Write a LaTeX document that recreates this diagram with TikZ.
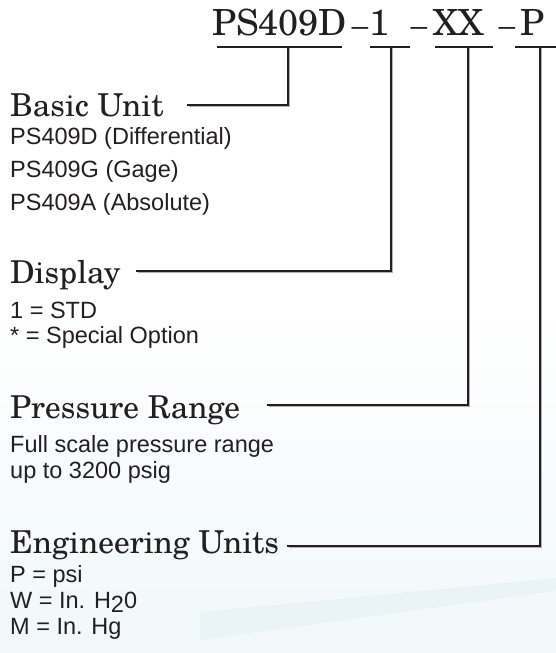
\documentclass[tikz,border=0pt]{standalone}
\usepackage{fontspec}
\setmainfont{TeX Gyre Schola}
\newfontfamily\bodyfont{Liberation Sans}
\definecolor{ink}{HTML}{231F20}
\definecolor{bgbot}{HTML}{F1F8FA}
\definecolor{bandc}{HTML}{EAF4F7}
\begin{document}
\begin{tikzpicture}[x=1pt,y=-1pt,
  titletxt/.style={anchor=base west, inner sep=0pt, font=\fontsize{36}{36}\selectfont, text=ink},
  titledash/.style={anchor=base, inner sep=0pt, font=\fontsize{30}{30}\selectfont, text=ink},
  head/.style={anchor=base west, inner sep=0pt, font=\fontsize{31.5}{31.5}\selectfont, text=ink},
  body/.style={anchor=base west, inner sep=0pt, font=\bodyfont\fontsize{23.5}{23.5}\selectfont, text=ink},
  uline/.style={draw=ink, line width=2.6pt},
  conn/.style={draw=ink, line width=2pt, line cap=rect, line join=miter,
    preaction={draw=black!30, line width=2pt, transform canvas={shift={(0.9pt,-0.9pt)}}}}]
\useasboundingbox (0,0) rectangle (556,653);
% background
\shade[top color=white, bottom color=bgbot] (0,300) rectangle (556,653);
\fill[bandc] (200,612) -- (556,578) -- (556,591) -- (200,640) -- cycle;
% title
\node[titletxt] (t1) at (212,35) {PS409D};
\node[titledash] (d1) at (360,35) {–};
\node[titletxt] (t2) at (369,35) {1};
\node[titledash] (d2) at (419,35) {–};
\node[titletxt] (t3) at (433,35) {XX};
\node[titledash] (d3) at (507,35) {–};
\node[titletxt] (t4) at (520,35) {P};
% underlines
\coordinate (u1l) at (217,47); \coordinate (u1r) at (342,47);
\coordinate (u2l) at (370,47); \coordinate (u2r) at (410,47);
\coordinate (u3l) at (435,47); \coordinate (u3r) at (493,47);
\coordinate (u4l) at (515,47); \coordinate (u4r) at (556,47);
\draw[uline] (u1l) -- (u1r);
\draw[uline] (u2l) -- (u2r);
\draw[uline] (u3l) -- (u3r);
\draw[uline] (u4l) -- (u4r);
\coordinate (v1) at (288,47);
\coordinate (v2) at (391,47);
\coordinate (v3) at (468,47);
\coordinate (v4) at (540,47);
% headings
\node[head] (h1) at (10,116) {Basic Unit};
\node[head] (h2) at (10,283) {Display};
\node[head] (h3) at (10,418) {Pressure Range};
\node[head] (h4) at (10,553) {Engineering Units};
\coordinate (e1) at (188,105);
\coordinate (e2) at (137,271);
\coordinate (e3) at (268,405);
\coordinate (e4) at (288,546);
% connectors
\draw[conn] (v1) |- (e1);
\draw[conn] (v2) |- (e2);
\draw[conn] (v3) |- (e3);
\draw[conn] (v4) |- (e4);
% body text
\node[body] (b11) at (10,144) {PS409D (Differential)};
\node[body] (b12) at (10,177) {PS409G (Gage)};
\node[body] (b13) at (10,210) {PS409A (Absolute)};
\node[body] (b21) at (10,318) {1 = STD};
\node[body] (b22) at (10,343) {* = Special Option};
\node[body] (b31) at (10,452) {Full scale pressure range};
\node[body] (b32) at (10,478) {up to 3200 psig};
\node[body] (b41) at (10,582) {P = psi};
\node[body] (b42) at (10,608) {W = In. H\raisebox{-4pt}{2}0};
\node[body] (b43) at (10,634) {M = In. Hg};
\end{tikzpicture}
\end{document}
